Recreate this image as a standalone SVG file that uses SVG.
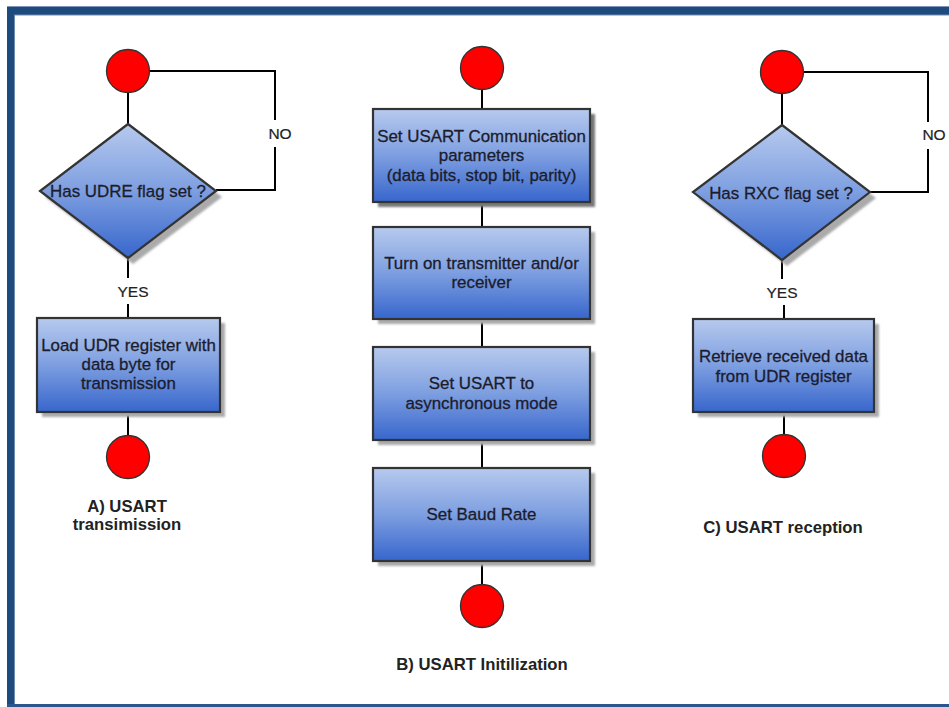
<svg xmlns="http://www.w3.org/2000/svg" width="949" height="707" viewBox="0 0 949 707">
<defs>
<linearGradient id="blue" x1="0" y1="0" x2="0" y2="1">
<stop offset="0" stop-color="#b7caee"/>
<stop offset="0.5" stop-color="#7d9ee0"/>
<stop offset="1" stop-color="#3766cc"/>
</linearGradient>
<filter id="blur" x="-10%" y="-10%" width="120%" height="120%"><feGaussianBlur stdDeviation="0.8"/></filter>
</defs>
<style>
.box{fill:url(#blue);stroke:#333;stroke-width:2.2}
.shadow{fill:#aaa;filter:url(#blur)}
.shadow.dark{fill:#777}
.term{fill:#ff0000;stroke:#333;stroke-width:1.3}
.conn{fill:none;stroke:#000;stroke-width:2}
.t{font-family:"Liberation Sans",Arial,sans-serif;font-size:16.9px;fill:#1c1c2c;stroke:#1c1c2c;stroke-width:0.3;text-anchor:middle}
.lbl{font-family:"Liberation Sans",Arial,sans-serif;font-size:15.5px;fill:#222;stroke:#222;stroke-width:0.2;text-anchor:middle}
.cap{font-family:"Liberation Sans",Arial,sans-serif;font-size:16.7px;font-weight:bold;fill:#222;text-anchor:middle}
</style>
<rect x="0" y="0" width="949" height="707" fill="#fff"/>
<g id="frame">
<rect x="7" y="7" width="942" height="8" fill="#1f4a7d"/>
<rect x="7" y="7" width="7" height="700" fill="#1f4a7d"/>
<rect x="7" y="704" width="942" height="3" fill="#2a568c"/>
<line x1="7" y1="6.5" x2="949" y2="6.5" stroke="#7e97b8" stroke-width="1"/>
<line x1="14" y1="15" x2="949" y2="15" stroke="#6f8db3" stroke-width="1"/>
<line x1="14.5" y1="15" x2="14.5" y2="704" stroke="#6f8db3" stroke-width="1"/>
</g>
<g id="connectors">
<polyline class="conn" points="150,71 275,71 275,120"/>
<polyline class="conn" points="275,147 275,190 216,190"/>
<line class="conn" x1="128" y1="92" x2="128" y2="124"/>
<line class="conn" x1="128" y1="258" x2="128" y2="278"/>
<line class="conn" x1="128" y1="304" x2="128" y2="318"/>
<line class="conn" x1="128" y1="412" x2="128" y2="436"/>
<line class="conn" x1="482" y1="89" x2="482" y2="109"/>
<line class="conn" x1="482" y1="202" x2="482" y2="227"/>
<line class="conn" x1="482" y1="319" x2="482" y2="347"/>
<line class="conn" x1="482" y1="440" x2="482" y2="468"/>
<line class="conn" x1="482" y1="561" x2="482" y2="585"/>
<polyline class="conn" points="803,72 928,72 928,122"/>
<polyline class="conn" points="928,149 928,192 870,192"/>
<line class="conn" x1="782" y1="93" x2="782" y2="125"/>
<line class="conn" x1="782" y1="260" x2="782" y2="279"/>
<line class="conn" x1="784" y1="305" x2="784" y2="319"/>
<line class="conn" x1="784" y1="412" x2="784" y2="435"/>
<text class="lbl" x="280" y="139">NO</text>
<text class="lbl" x="133" y="297">YES</text>
<text class="lbl" x="934" y="140">NO</text>
<text class="lbl" x="782" y="298">YES</text>
</g>
<g id="a_start"><circle class="term" cx="128" cy="71" r="21.5"/></g>
<g id="a_decision">
<polygon class="shadow" points="133,130 222,197 133,264 45,197"/>
<polygon class="box" points="128,124 216,191 128,258 40,191"/>
<text class="t" x="128" y="197">Has UDRE flag set ?</text>
</g>
<g id="a_load">
<rect class="shadow" x="42" y="323" width="183" height="94"/>
<rect class="box" x="37" y="318" width="183" height="94"/>
<text class="t" x="128.5" y="351">Load UDR register with</text>
<text class="t" x="128.5" y="370">data byte for</text>
<text class="t" x="128.5" y="389">transmission</text>
</g>
<g id="a_end"><circle class="term" cx="128" cy="457" r="21.5"/></g>
<g id="a_caption">
<text class="cap" x="127" y="512">A) USART</text>
<text class="cap" x="127" y="530">transimission</text>
</g>
<g id="b_start"><circle class="term" cx="482" cy="68" r="21.5"/></g>
<g id="b_params">
<rect class="shadow dark" x="378" y="114" width="217" height="93"/>
<rect class="box" x="373" y="109" width="217" height="93"/>
<text class="t" x="481.5" y="142">Set USART Communication</text>
<text class="t" x="481.5" y="161">parameters</text>
<text class="t" x="481.5" y="181">(data bits, stop bit, parity)</text>
</g>
<g id="b_turnon">
<rect class="shadow" x="378" y="232" width="217" height="92"/>
<rect class="box" x="373" y="227" width="217" height="92"/>
<text class="t" x="481.5" y="269">Turn on transmitter and/or</text>
<text class="t" x="481.5" y="288">receiver</text>
</g>
<g id="b_async">
<rect class="shadow" x="378" y="352" width="217" height="93"/>
<rect class="box" x="373" y="347" width="217" height="93"/>
<text class="t" x="481.5" y="389">Set USART to</text>
<text class="t" x="481.5" y="409">asynchronous mode</text>
</g>
<g id="b_baud">
<rect class="shadow" x="378" y="473" width="217" height="93"/>
<rect class="box" x="373" y="468" width="217" height="93"/>
<text class="t" x="481.5" y="520">Set Baud Rate</text>
</g>
<g id="b_end"><circle class="term" cx="482" cy="606" r="21.5"/></g>
<g id="b_caption"><text class="cap" x="482" y="670">B) USART Initilization</text></g>
<g id="c_start"><circle class="term" cx="782" cy="72" r="21.5"/></g>
<g id="c_decision">
<polygon class="shadow" points="787,131 876,198 787,266 698,198"/>
<polygon class="box" points="782,125 870,192 782,260 693,192"/>
<text class="t" x="781" y="199">Has RXC flag set ?</text>
</g>
<g id="c_retrieve">
<rect class="shadow" x="698" y="324" width="181" height="93"/>
<rect class="box" x="693" y="319" width="181" height="93"/>
<text class="t" x="783.5" y="362">Retrieve received data</text>
<text class="t" x="783.5" y="382">from UDR register</text>
</g>
<g id="c_end"><circle class="term" cx="784" cy="456" r="21.5"/></g>
<g id="c_caption"><text class="cap" x="783" y="533">C) USART reception</text></g>
</svg>
